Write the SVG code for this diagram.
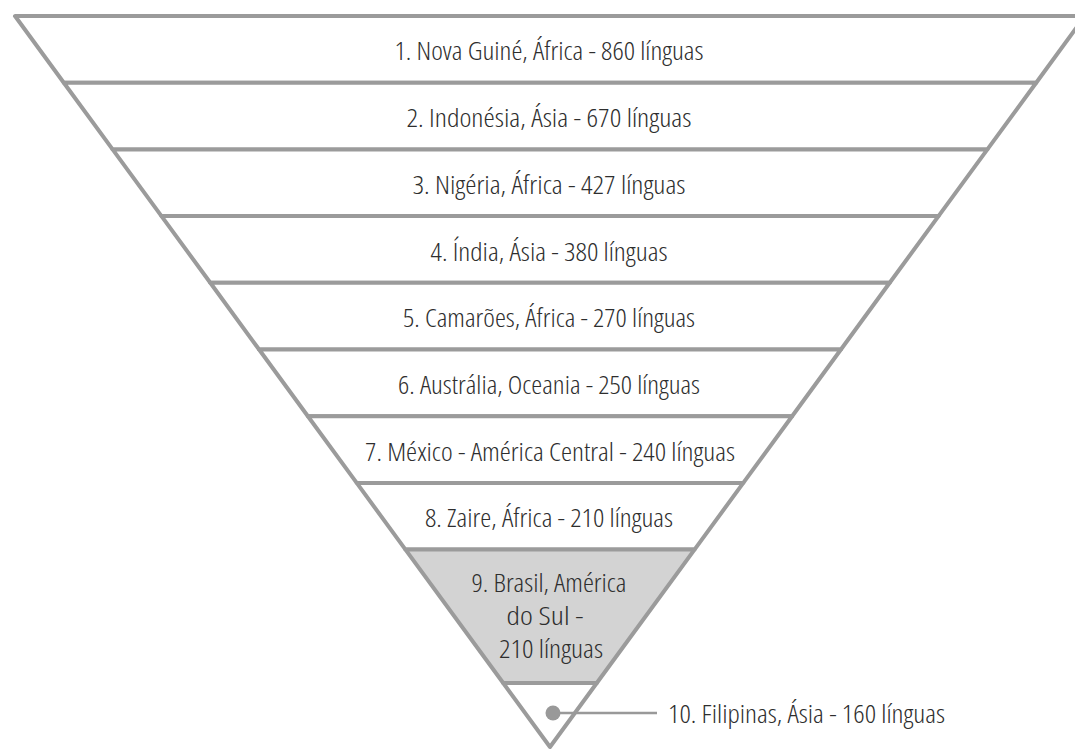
<svg xmlns="http://www.w3.org/2000/svg" width="1075" height="749" viewBox="0 0 1075 749">
<style>
.band{fill:#ffffff;stroke:#9b9b9b;stroke-width:4;stroke-linejoin:round}
.band.hl{fill:#d3d3d3}
.lbl{font-family:"Open Sans","Liberation Sans Narrow","Liberation Sans",sans-serif;font-stretch:condensed;font-weight:300;font-size:26px;fill:#2e2e2e;text-anchor:middle}
.lbl.left{text-anchor:start}
.conn{stroke:#999999;stroke-width:2.5;fill:none}
.dot{fill:#999999}
</style>
<rect width="1075" height="749" fill="#ffffff"/>
<g id="band1"><polygon class="band" points="15,16 1085,16 1036.2,82.7 63.8,82.7"/><text class="lbl" x="549" y="60.4" textLength="309" lengthAdjust="spacingAndGlyphs">1. Nova Guiné, África - 860 línguas</text></g>
<g id="band2"><polygon class="band" points="63.8,82.7 1036.2,82.7 987.4,149.4 112.6,149.4"/><text class="lbl" x="549" y="127" textLength="285" lengthAdjust="spacingAndGlyphs">2. Indonésia, Ásia - 670 línguas</text></g>
<g id="band3"><polygon class="band" points="112.6,149.4 987.4,149.4 938.5,216.1 161.5,216.1"/><text class="lbl" x="549" y="193.8" textLength="273" lengthAdjust="spacingAndGlyphs">3. Nigéria, África - 427 línguas</text></g>
<g id="band4"><polygon class="band" points="161.5,216.1 938.5,216.1 889.7,282.8 210.3,282.8"/><text class="lbl" x="549" y="260.5" textLength="237" lengthAdjust="spacingAndGlyphs">4. Índia, Ásia - 380 línguas</text></g>
<g id="band5"><polygon class="band" points="210.3,282.8 889.7,282.8 840.9,349.5 259.1,349.5"/><text class="lbl" x="549" y="327.2" textLength="292" lengthAdjust="spacingAndGlyphs">5. Camarões, África - 270 línguas</text></g>
<g id="band6"><polygon class="band" points="259.1,349.5 840.9,349.5 792.1,416.2 307.9,416.2"/><text class="lbl" x="549" y="393.9" textLength="302" lengthAdjust="spacingAndGlyphs">6. Austrália, Oceania - 250 línguas</text></g>
<g id="band7"><polygon class="band" points="307.9,416.2 792.1,416.2 743.3,482.9 356.7,482.9"/><text class="lbl" x="550" y="460.6" textLength="370" lengthAdjust="spacingAndGlyphs">7. México - América Central - 240 línguas</text></g>
<g id="band8"><polygon class="band" points="356.7,482.9 743.3,482.9 694.5,549.6 405.5,549.6"/><text class="lbl" x="549" y="527.3" textLength="248" lengthAdjust="spacingAndGlyphs">8. Zaire, África - 210 línguas</text></g>
<g id="band9"><polygon class="band hl" points="405.5,549.6 694.5,549.6 596.8,683 503.2,683"/>
<text class="lbl" x="549" y="592" textLength="155" lengthAdjust="spacingAndGlyphs">9. Brasil, América</text>
<text class="lbl" x="545" y="625" textLength="77" lengthAdjust="spacingAndGlyphs">do Sul -</text>
<text class="lbl" x="551" y="658" textLength="104" lengthAdjust="spacingAndGlyphs">210 línguas</text></g>
<g id="band10"><polygon class="band" points="503.2,683 596.8,683 550,747"/></g>
<g id="connectors"><line class="conn" x1="553" y1="713" x2="657" y2="713"/><circle class="dot" cx="553" cy="713" r="7.5"/></g>
<g id="label10"><text class="lbl left" x="668" y="722.5" textLength="277" lengthAdjust="spacingAndGlyphs">10. Filipinas, Ásia - 160 línguas</text></g>
</svg>
